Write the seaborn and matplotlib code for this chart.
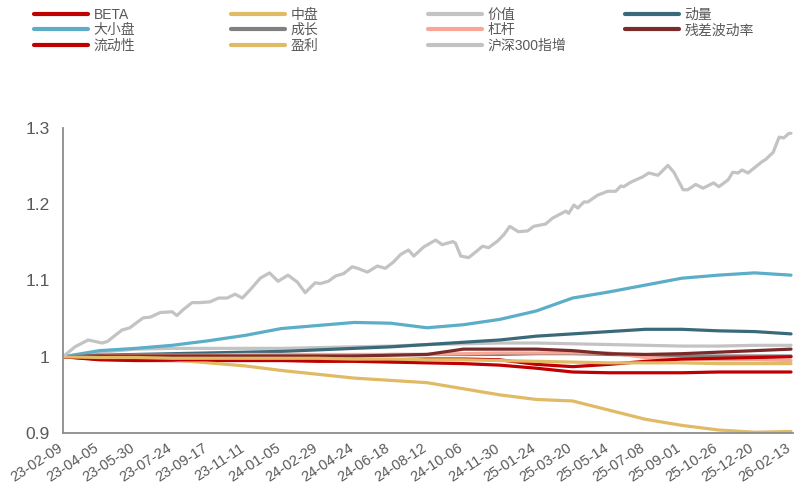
import pandas as pd
import matplotlib
matplotlib.use('Agg')
import matplotlib.pyplot as plt
import matplotlib.dates as mdates
from matplotlib.lines import Line2D
from matplotlib.transforms import ScaledTranslation
import seaborn as sns

# x axis labels (one every 55 days), the smooth factor series are read at these dates
tick_labels = ['23-02-09', '23-04-05', '23-05-30', '23-07-24', '23-09-17', '23-11-11',
               '24-01-05', '24-02-29', '24-04-24', '24-06-18', '24-08-12', '24-10-06',
               '24-11-30', '25-01-24', '25-03-20', '25-05-14', '25-07-08', '25-09-01',
               '25-10-26', '25-12-20', '26-02-13']

beta = [1.000, 0.996, 0.995, 0.995, 0.995, 0.995, 0.995, 0.994, 0.994, 0.993, 0.992,
        0.991, 0.989, 0.985, 0.980, 0.979, 0.979, 0.979, 0.980, 0.980, 0.980]
mid_cap = [1.000, 0.999, 0.997, 0.996, 0.992, 0.988, 0.982, 0.977, 0.972, 0.969, 0.966,
           0.958, 0.950, 0.944, 0.942, 0.930, 0.918, 0.910, 0.904, 0.901, 0.902]
value = [1.000, 1.006, 1.010, 1.011, 1.011, 1.011, 1.011, 1.012, 1.013, 1.014, 1.016,
         1.017, 1.018, 1.018, 1.017, 1.016, 1.015, 1.014, 1.014, 1.015, 1.015]
momentum = [1.000, 1.002, 1.003, 1.004, 1.005, 1.006, 1.007, 1.009, 1.011, 1.013, 1.016,
            1.019, 1.022, 1.027, 1.030, 1.033, 1.036, 1.036, 1.034, 1.033, 1.030]
size = [1.000, 1.008, 1.011, 1.015, 1.021, 1.028, 1.037, 1.041, 1.045, 1.044, 1.038,
        1.042, 1.049, 1.060, 1.077, 1.085, 1.094, 1.103, 1.107, 1.110, 1.107]
growth = [1.000, 1.000, 1.001, 1.001, 1.002, 1.002, 1.002, 1.002, 1.002, 1.003, 1.003,
          1.003, 1.003, 1.004, 1.004, 1.003, 1.002, 1.001, 1.001, 1.001, 1.001]
leverage = [1.000, 1.001, 1.002, 1.002, 1.002, 1.003, 1.003, 1.003, 1.003, 1.003, 1.003,
            1.004, 1.005, 1.005, 1.005, 1.005, 0.999, 0.997, 0.996, 0.996, 0.995]
resvol = [1.000, 1.001, 1.001, 1.001, 1.001, 1.001, 1.001, 1.001, 1.001, 1.002, 1.003,
          1.010, 1.010, 1.010, 1.008, 1.004, 1.003, 1.004, 1.006, 1.008, 1.010]
liquidity = [1.000, 0.997, 0.996, 0.996, 0.996, 0.996, 0.996, 0.996, 0.996, 0.996, 0.997,
             0.997, 0.996, 0.990, 0.987, 0.990, 0.994, 0.997, 0.998, 0.999, 1.000]
earnings = [1.000, 0.999, 0.999, 0.998, 0.998, 0.998, 0.998, 0.998, 0.997, 0.997, 0.996,
            0.996, 0.995, 0.994, 0.993, 0.992, 0.992, 0.992, 0.991, 0.991, 0.991]

# 沪深300指增 is read at finer points (days since 2023-02-09)
hs300_days = [0, 18, 38, 59, 67, 89, 101, 121, 132, 147, 165, 172, 182, 195, 207, 222, 235,
              248, 260, 271, 283, 298, 312, 325, 340, 354, 366, 381, 389, 401, 412, 424,
              437, 445, 460, 475, 487, 499, 510, 522, 530, 545, 555, 563, 573, 589, 593,
              601, 613, 623, 634, 643, 657, 666, 675, 688, 702, 711, 729, 740, 760, 764,
              772, 778, 787, 793, 808, 823, 835, 843, 847, 858, 876, 885, 899, 914, 923,
              937, 944, 956, 967, 983, 991, 1005, 1012, 1020, 1026, 1035, 1055, 1062,
              1073, 1082, 1089, 1097, 1100]
hs300 = [1.000, 1.013, 1.022, 1.018, 1.020, 1.035, 1.038, 1.051, 1.052, 1.058, 1.059, 1.054,
         1.062, 1.071, 1.071, 1.072, 1.077, 1.077, 1.082, 1.077, 1.088, 1.103, 1.110, 1.099,
         1.107, 1.098, 1.084, 1.097, 1.096, 1.099, 1.106, 1.109, 1.118, 1.116, 1.111, 1.119,
         1.116, 1.124, 1.134, 1.140, 1.132, 1.144, 1.149, 1.153, 1.147, 1.151, 1.149, 1.132,
         1.130, 1.137, 1.145, 1.143, 1.152, 1.160, 1.171, 1.164, 1.165, 1.171, 1.174, 1.182,
         1.191, 1.188, 1.199, 1.195, 1.203, 1.203, 1.212, 1.217, 1.217, 1.224, 1.223, 1.229,
         1.236, 1.241, 1.238, 1.251, 1.242, 1.219, 1.219, 1.226, 1.221, 1.228, 1.223, 1.232,
         1.242, 1.241, 1.245, 1.241, 1.255, 1.259, 1.268, 1.288, 1.287, 1.293, 1.293]

dates = pd.to_datetime(tick_labels, format='%y-%m-%d')
hs300_dates = dates[0] + pd.to_timedelta(hs300_days, unit='D')

RED = '#C00000'
GOLD = '#E0BA64'
LGRAY = '#C3C3C3'

# drawing order, legend order is row by row
series = [
    ('BETA', beta, RED),
    ('中盘', mid_cap, GOLD),
    ('价值', value, LGRAY),
    ('动量', momentum, '#3A6A7A'),
    ('大小盘', size, '#5CAEC8'),
    ('成长', growth, '#808080'),
    ('杠杆', leverage, '#F8A796'),
    ('残差波动率', resvol, '#7B2A2A'),
    ('流动性', liquidity, RED),
    ('盈利', earnings, GOLD),
]

sns.set_style('white')
plt.rcParams['font.family'] = ['Liberation Sans', 'Noto Sans CJK SC', 'DejaVu Sans']

fig = plt.figure(figsize=(7.94, 4.98), dpi=100)
ax = fig.add_axes([63 / 794, 65 / 498, 730 / 794, 305 / 498])

handles = {}
for name, vals, col in series:
    sns.lineplot(x=dates, y=vals, color=col, lw=2.3, ax=ax, legend=False)
    handles[name] = Line2D([], [], color=col, lw=3, solid_capstyle='round')
sns.lineplot(x=hs300_dates, y=hs300, color=LGRAY, lw=2.3, ax=ax, legend=False)
handles['沪深300指增'] = Line2D([], [], color=LGRAY, lw=3, solid_capstyle='round')

ax.set_ylim(0.9, 1.3)
ax.set_yticks([0.9, 1.0, 1.1, 1.2, 1.3])
ax.set_yticklabels(['0.9', '1', '1.1', '1.2', '1.3'])
ax.set_xlim(dates[0], dates[-1] + pd.Timedelta(days=3))
ax.set_xticks(dates)
ax.xaxis.set_major_formatter(mdates.DateFormatter('%y-%m-%d'))
ax.set_xlabel('')
ax.set_ylabel('')

for s in ['top', 'right']:
    ax.spines[s].set_visible(False)
for s in ['left', 'bottom']:
    ax.spines[s].set_color('#8C8C8C')
    ax.spines[s].set_linewidth(1.3)
ax.tick_params(axis='both', direction='out', length=3, width=1.2, color='#8C8C8C',
               labelcolor='#595959')
ax.tick_params(axis='y', labelsize=12.5, pad=6.5)
ax.tick_params(axis='x', labelsize=10.5, pad=7)
shift = ScaledTranslation(-2 / 100, 0, fig.dpi_scale_trans)
for lab in ax.get_xticklabels():
    lab.set_rotation(33)
    lab.set_ha('right')
    lab.set_va('center')
    lab.set_rotation_mode('anchor')
    lab.set_transform(lab.get_transform() + shift)

# legend: 4 columns at fixed spacing, one legend per column
columns = [['BETA', '大小盘', '流动性'],
           ['中盘', '成长', '盈利'],
           ['价值', '杠杆', '沪深300指增'],
           ['动量', '残差波动率']]
for i, names in enumerate(columns):
    fig.legend([handles[n] for n in names], names, loc='upper left',
               bbox_to_anchor=((28 + 197 * i) / 794, 1 - 2 / 498), frameon=False,
               fontsize=10, handlelength=3.95, handletextpad=0.36, labelspacing=0.12,
               borderaxespad=0, labelcolor='#595959')

fig.savefig('out.png', dpi=100)
